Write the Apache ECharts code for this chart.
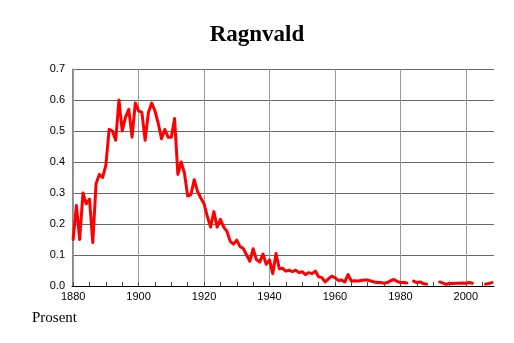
<!DOCTYPE html>
<html><head><meta charset="utf-8">
<script src="https://cdn.jsdelivr.net/npm/echarts@6/dist/echarts.min.js"></script>
<style>html,body{margin:0;padding:0;background:#fff}#c{width:514px;height:343px}</style>
</head><body><div id="c"></div>
<script>
const startYear = 1880;
const values = [
  0.15, 0.26, 0.15, 0.30, 0.265, 0.28, 0.14, 0.33, 0.36, 0.35,      // 1880-1889
  0.39, 0.505, 0.50, 0.47, 0.60, 0.50, 0.545, 0.57, 0.48, 0.59,     // 1890-1899
  0.565, 0.56, 0.47, 0.56, 0.59, 0.565, 0.525, 0.475, 0.505, 0.48,  // 1900-1909
  0.48, 0.54, 0.36, 0.40, 0.365, 0.29, 0.295, 0.343, 0.305, 0.284,  // 1910-1919
  0.265, 0.225, 0.19, 0.24, 0.19, 0.215, 0.19, 0.176, 0.144, 0.135, // 1920-1929
  0.148, 0.127, 0.121, 0.10, 0.08, 0.12, 0.085, 0.077, 0.103, 0.07, // 1930-1939
  0.084, 0.04, 0.105, 0.056, 0.057, 0.048, 0.051, 0.046, 0.051, 0.043, // 1940-1949
  0.046, 0.037, 0.043, 0.04, 0.048, 0.03, 0.027, 0.013, 0.023, 0.032,  // 1950-1959
  0.027, 0.018, 0.019, 0.013, 0.037, 0.016, 0.017, 0.016, 0.018, 0.019, // 1960-1969
  0.019, 0.016, 0.013, 0.011, 0.011, 0.009, 0.011, 0.017, 0.021, 0.015, // 1970-1979
  0.011, 0.011, 0.01, null, 0.016, 0.011, 0.013, 0.008, 0.006, null,    // 1980-1989
  null, null, 0.013, 0.009, 0.005, 0.009, 0.008, 0.009, 0.009, 0.01,    // 1990-1999
  0.009, 0.011, 0.009, null, null, null, 0.006, 0.008, 0.011            // 2000-2008
];
const majorTicks = [1880, 1900, 1920, 1940, 1960, 1980, 2000];
const minorTicks = [1885, 1890, 1895, 1905, 1910, 1915, 1925, 1930, 1935, 1945, 1950, 1955, 1965, 1970, 1975, 1985, 1990, 1995, 2005];
const yTicks = [0, 0.1, 0.2, 0.3, 0.4, 0.5, 0.6, 0.7];

const data = values.map((v, i) => [startYear + i, v]);
const xMin = 1879.65, xMax = 2008.6;

const chart = echarts.init(document.getElementById('c'), null, {renderer: 'canvas'});
chart.setOption({
  animation: false,
  backgroundColor: '#fff',
  title: {
    text: 'Ragnvald', left: 'center', top: 19,
    textStyle: {fontFamily: 'Liberation Serif', fontWeight: 'bold', fontSize: 23, color: '#000'}
  },
  graphic: [{
    type: 'text', left: 32, top: 311,
    style: {text: 'Prosent', fontFamily: 'Liberation Serif', fontSize: 15, fill: '#000'}
  }],
  grid: {left: 72, right: 20, top: 69, bottom: 57, containLabel: false},
  xAxis: [{
    type: 'value', min: xMin, max: xMax,
    axisLine: {show: true, lineStyle: {color: '#000', width: 1}},
    axisTick: {show: true, inside: true, length: 4, customValues: majorTicks, lineStyle: {color: '#444'}},
    axisLabel: {customValues: majorTicks, fontFamily: 'Liberation Sans', fontSize: 11, color: '#000', margin: 5,
      formatter: v => String(Math.round(v))},
    splitLine: {show: true, lineStyle: {color: '#999', width: 1}}
  }, {
    type: 'value', min: xMin, max: xMax, position: 'bottom',
    axisLine: {show: false},
    axisTick: {show: true, inside: true, length: 4, customValues: minorTicks, lineStyle: {color: '#444'}},
    axisLabel: {show: false},
    splitLine: {show: false}
  }],
  yAxis: {
    type: 'value', min: 0, max: 0.7, interval: 0.1,
    axisLine: {show: true, lineStyle: {color: '#888', width: 1}},
    axisTick: {show: false},
    axisLabel: {fontFamily: 'Liberation Sans', fontSize: 11, color: '#000', margin: 7,
      formatter: v => v.toFixed(1)},
    splitLine: {show: true, lineStyle: {color: '#666', width: 1}}
  },
  series: [{
    type: 'line', xAxisIndex: 0, data: data, showSymbol: false, connectNulls: false,
    lineStyle: {color: '#ff0000', width: 3, cap: 'round', join: 'round'},
    itemStyle: {color: '#ff0000'}
  }]
});
</script></body></html>
